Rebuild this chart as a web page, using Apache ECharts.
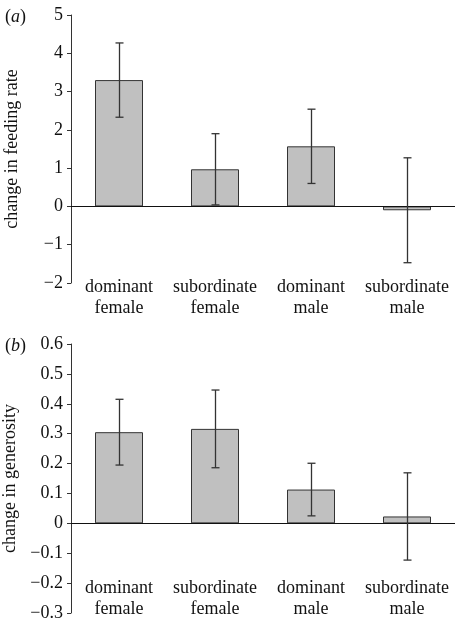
<!DOCTYPE html>
<html>
<head>
<meta charset="utf-8">
<script src="https://cdn.jsdelivr.net/npm/echarts@6/dist/echarts.min.js"></script>
<style>
html,body{margin:0;padding:0;background:#fff;}
#chart{width:456px;height:624px;}
</style>
</head>
<body>
<div id="chart"></div>
<script>
const categories = ['dominant\nfemale', 'subordinate\nfemale', 'dominant\nmale', 'subordinate\nmale'];
const feedingMean = [3.30, 0.97, 1.57, -0.10];
const feedingErr = [0.97, 0.93, 0.97, 1.37];
const generosityMean = [0.305, 0.316, 0.113, 0.023];
const generosityErr = [0.11, 0.13, 0.088, 0.146];
const feedingTicks = {min: -2, max: 5, interval: 1};
const generosityTicks = {min: -0.3, max: 0.6, interval: 0.1};

const FONT = '"Liberation Serif", "DejaVu Serif", serif';
const TXT = '#111111';
const LINE = '#333333';

function fmt(v) {
  const r = Math.round(v * 10) / 10;
  const s = String(Math.abs(r));
  return (r < 0 ? '\u2212' : '') + s;
}

function errData(mean, err) {
  return mean.map((m, i) => [i, m - err[i], m + err[i]]);
}

function errRender(params, api) {
  const x = api.value(0);
  const lo = api.coord([x, api.value(1)]);
  const hi = api.coord([x, api.value(2)]);
  const cx = Math.round(lo[0]) + 0.5;
  const w = 4;
  const style = {stroke: LINE, lineWidth: 1.3};
  return {
    type: 'group',
    children: [
      {type: 'line', shape: {x1: cx, y1: hi[1], x2: cx, y2: lo[1]}, style: style},
      {type: 'line', shape: {x1: cx - w, y1: hi[1], x2: cx + w, y2: hi[1]}, style: style},
      {type: 'line', shape: {x1: cx - w, y1: lo[1], x2: cx + w, y2: lo[1]}, style: style}
    ]
  };
}

function yAxisCfg(gridIndex, name, ticks) {
  return {
    type: 'value', gridIndex: gridIndex,
    min: ticks.min, max: ticks.max, interval: ticks.interval,
    name: name, nameLocation: 'middle', nameGap: 50,
    nameTextStyle: {fontFamily: FONT, fontSize: 18, color: TXT},
    axisLine: {show: true, lineStyle: {color: LINE, width: 1}},
    axisTick: {show: true, inside: false, length: 4, lineStyle: {color: LINE}},
    axisLabel: {fontFamily: FONT, fontSize: 18, color: TXT, margin: 8, formatter: fmt},
    splitLine: {show: false}
  };
}

function xAxisCfg(gridIndex, offset) {
  return {
    type: 'category', gridIndex: gridIndex, data: categories,
    position: 'bottom', offset: offset,
    axisLine: {show: false}, axisTick: {show: false},
    axisLabel: {fontFamily: FONT, fontSize: 18, color: TXT, margin: 0, lineHeight: 21, interval: 0}
  };
}

function barSeries(idx, data) {
  return {
    type: 'bar', xAxisIndex: idx, yAxisIndex: idx, data: data,
    barWidth: '50%',
    itemStyle: {color: '#c0c0c0', borderColor: LINE, borderWidth: 1},
    markLine: {
      silent: true, symbol: ['none', 'none'],
      label: {show: false},
      lineStyle: {color: '#111', width: 1, type: 'solid'},
      data: [{yAxis: 0}]
    },
    z: 2
  };
}

const richLbl = {
  p: {fontFamily: FONT, fontSize: 18, fontWeight: 'normal', color: TXT},
  i: {fontFamily: FONT, fontSize: 18, fontWeight: 'normal', fontStyle: 'italic', color: TXT}
};

const chart = echarts.init(document.getElementById('chart'), null, {renderer: 'canvas'});
chart.setOption({
  animation: false,
  backgroundColor: '#fff',
  title: [
    {text: '{p|(}{i|a}{p|)}', left: 0, top: 3, textStyle: {fontWeight: 'normal', rich: richLbl}},
    {text: '{p|(}{i|b}{p|)}', left: 0, top: 332, textStyle: {fontWeight: 'normal', rich: richLbl}}
  ],
  grid: [
    {left: 71, right: 1, top: 15, height: 268, outerBoundsMode: 'none', containLabel: false},
    {left: 71, right: 1, top: 344, height: 269, outerBoundsMode: 'none', containLabel: false}
  ],
  xAxis: [xAxisCfg(0, -6), xAxisCfg(1, -35)],
  yAxis: [
    yAxisCfg(0, 'change in feeding rate', feedingTicks),
    yAxisCfg(1, 'change in generosity', generosityTicks)
  ],
  series: [
    barSeries(0, feedingMean),
    barSeries(1, generosityMean),
    {type: 'custom', xAxisIndex: 0, yAxisIndex: 0, data: errData(feedingMean, feedingErr), renderItem: errRender, z: 5},
    {type: 'custom', xAxisIndex: 1, yAxisIndex: 1, data: errData(generosityMean, generosityErr), renderItem: errRender, z: 5}
  ]
});
</script>
</body>
</html>
